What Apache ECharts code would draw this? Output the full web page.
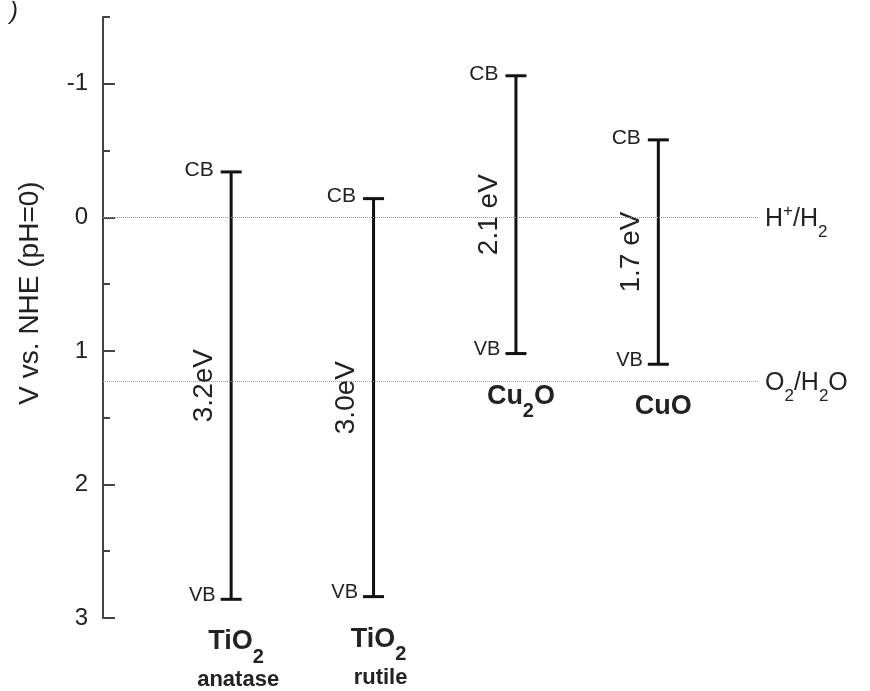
<!DOCTYPE html>
<html>
<head>
<meta charset="utf-8">
<script src="https://cdn.jsdelivr.net/npm/echarts@6/dist/echarts.min.js"></script>
<style>
html,body{margin:0;padding:0;background:#fff;}
#chart{width:870px;height:691px;}
</style>
</head>
<body>
<div id="chart"></div>
<script>
// ---- data ----
const materialNames = ['TiO{s|2}', 'TiO{s|2}', 'Cu{s|2}O', 'CuO'];
const phaseNames = ['anatase', 'rutile', '', ''];
const cbValues = [-0.34, -0.14, -1.06, -0.58];
const vbValues = [2.86, 2.84, 1.02, 1.10];
const gapLabels = ['3.2eV', '3.0eV', '2.1 eV', '1.7 eV'];
const redoxValues = [0, 1.23];
const redoxLabels = ['{m|H}{sup|+}{m|/H}{sub|2}', '{m|O}{sub|2}{m|/H}{sub|2}{m|O}'];
const yTickValues = [-1, 0, 1, 2, 3];
const yMinorTickValues = [-1.5, -0.5, 0.5, 1.5, 2.5];
const yAxisTitle = 'V vs. NHE (pH=0)';

const FONT = '"Liberation Sans", Arial, Helvetica, sans-serif';
const TXT = '#222';

const seriesData = cbValues.map((cb, i) => [i + 1, cb, vbValues[i]]);

const chart = echarts.init(document.getElementById('chart'));

const option = {
  backgroundColor: '#fff',
  animation: false,
  grid: { left: 103, right: 112, top: 17, bottom: 73 },
  xAxis: { type: 'value', min: 0.1, max: 4.7, show: false },
  yAxis: [
    {
      type: 'value', min: -1.5, max: 3, inverse: true,
      axisLine: { show: true, lineStyle: { color: '#444', width: 2 } },
      axisTick: { show: true, inside: true, length: 12, customValues: yTickValues, lineStyle: { color: '#444', width: 2 } },
      axisLabel: { show: true, customValues: yTickValues, margin: 15, fontSize: 24, color: TXT, fontFamily: FONT },
      splitLine: { show: false }
    },
    {
      type: 'value', min: -1.5, max: 3, inverse: true, position: 'left',
      axisLine: { show: false },
      axisTick: { show: true, inside: true, length: 7, customValues: yMinorTickValues, lineStyle: { color: '#444', width: 2 } },
      axisLabel: { show: false },
      splitLine: { show: false }
    }
  ],
  graphic: [
    { type: 'text', x: 30, y: 293, rotation: Math.PI / 2,
      style: { text: yAxisTitle, align: 'center', verticalAlign: 'middle', fontSize: 28, fill: TXT, fontFamily: FONT } },
    { type: 'text', x: 10, y: 0,
      style: { text: ')', fontSize: 24, fontStyle: 'italic', fill: TXT, fontFamily: FONT } }
  ],
  series: [
    {
      type: 'custom',
      data: seriesData,
      silent: true,
      renderItem: function (params, api) {
        const i = params.dataIndex;
        const xv = api.value(0);
        const p1 = api.coord([xv, api.value(1)]);
        const p2 = api.coord([xv, api.value(2)]);
        const x = p1[0];
        const capW = 10.5;
        const ls = { stroke: '#111', lineWidth: 3 };
        const children = [
          { type: 'line', shape: { x1: x, y1: p1[1], x2: x, y2: p2[1] }, style: ls },
          { type: 'line', shape: { x1: x - capW, y1: p1[1], x2: x + capW, y2: p1[1] }, style: ls },
          { type: 'line', shape: { x1: x - capW, y1: p2[1], x2: x + capW, y2: p2[1] }, style: ls },
          { type: 'text', style: { text: 'CB', x: x - capW - 7, y: p1[1] - 2, align: 'right', verticalAlign: 'middle', fontSize: 21, fill: TXT, fontFamily: FONT } },
          { type: 'text', style: { text: 'VB', x: x - capW - 5, y: p2[1] - 4, align: 'right', verticalAlign: 'middle', fontSize: 20, fill: TXT, fontFamily: FONT } },
          { type: 'text', x: x - 27, y: (p1[1] + p2[1]) / 2, rotation: Math.PI / 2,
            style: { text: gapLabels[i], x: 0, y: 0, align: 'center', verticalAlign: 'middle', fontSize: 28, fill: TXT, fontFamily: FONT } },
          { type: 'text', style: {
              text: '{m|' + materialNames[i].replace(/\{s\|(\d)\}/g, '}{s|$1}{m|') + '}',
              x: x + 5, y: p2[1] + 44 - 15, align: 'center', verticalAlign: 'top',
              rich: {
                m: { fontSize: 27, fontWeight: 'bold', fontFamily: FONT, fill: TXT, color: TXT, lineHeight: 30, verticalAlign: 'top' },
                s: { fontSize: 20, fontWeight: 'bold', fontFamily: FONT, fill: TXT, color: TXT, lineHeight: 20, padding: [19, 0, 0, 0], verticalAlign: 'top' }
              } } }
        ];
        if (phaseNames[i]) {
          children.push({ type: 'text', style: { text: phaseNames[i], x: x + 7, y: p2[1] + 81, align: 'center', verticalAlign: 'middle', fontSize: 22, fontWeight: 'bold', fill: TXT, fontFamily: FONT } });
        }
        return { type: 'group', children: children };
      },
      markLine: {
        silent: true,
        symbol: 'none',
        lineStyle: { type: 'dotted', color: '#999', width: 1 },
        label: {
          show: true, position: 'end', distance: 7,
          formatter: function (p) { return redoxLabels[p.dataIndex]; },
          rich: {
            m: { fontSize: 25, fontFamily: FONT, color: TXT, lineHeight: 30, padding: [4, 0, 0, 0], verticalAlign: 'top' },
            sup: { fontSize: 17, fontFamily: FONT, color: TXT, lineHeight: 16, verticalAlign: 'top' },
            sub: { fontSize: 17, fontFamily: FONT, color: TXT, lineHeight: 18, padding: [21, 0, 0, 0], verticalAlign: 'top' }
          }
        },
        data: redoxValues.map(v => ({ yAxis: v }))
      }
    }
  ]
};
chart.setOption(option);
</script>
</body>
</html>
